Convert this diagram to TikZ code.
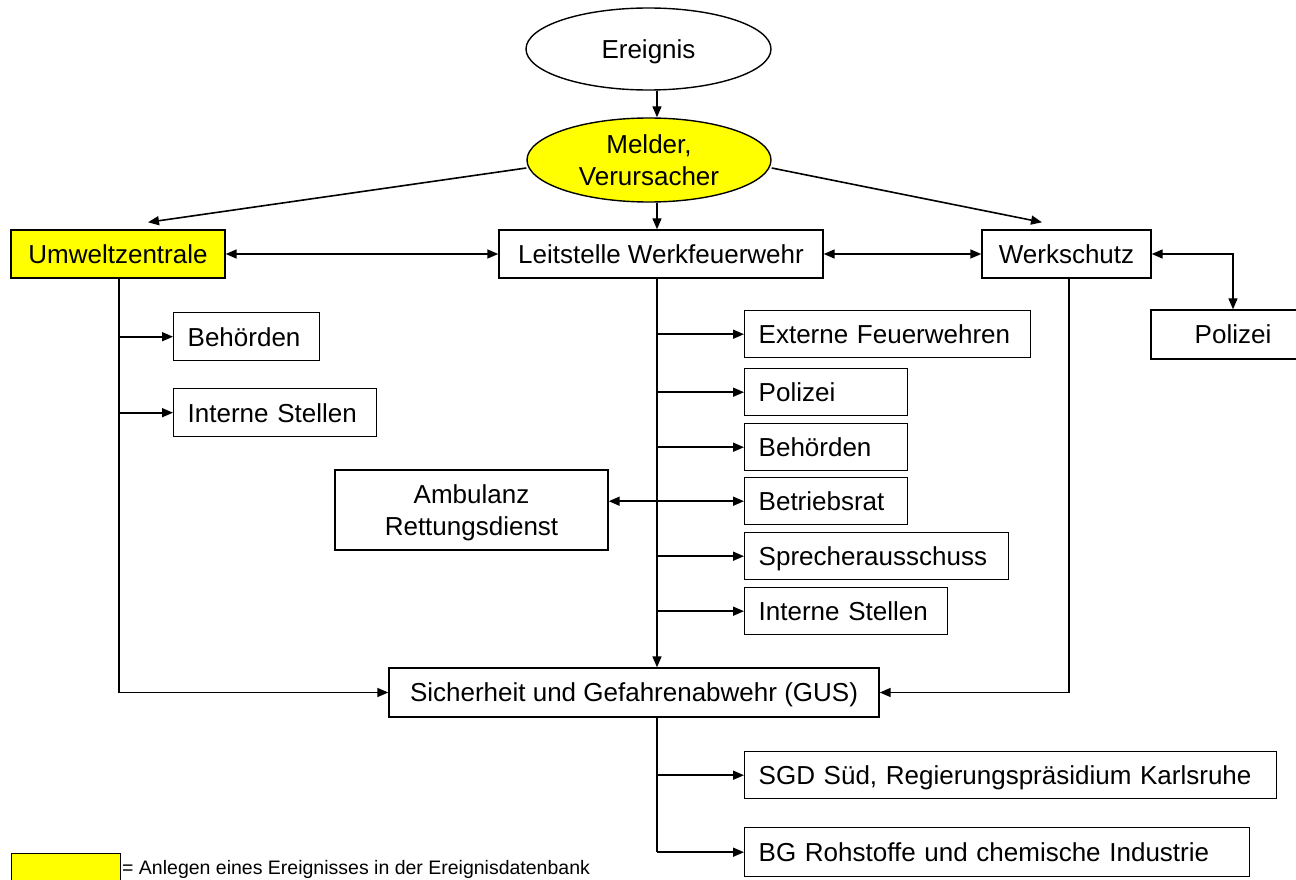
\documentclass[tikz,border=0pt]{standalone}
\usepackage{fontspec}
\setmainfont{Liberation Sans}
\usetikzlibrary{arrows.meta,shapes.geometric,calc}
\definecolor{hl}{RGB}{255,255,0}
\begin{document}
\begin{tikzpicture}[x=1pt,y=-1pt,
  every node/.style={font=\fontsize{26}{32}\selectfont},
  ln/.style={line width=1.6pt},
  arr/.style={ln,-{Triangle[length=11pt,width=9pt]}},
  darr/.style={ln,{Triangle[length=11pt,width=9pt]}-{Triangle[length=11pt,width=9pt]}},
  ell/.style={draw,ellipse,line width=1.4pt,inner sep=0pt,align=center,text depth=0pt},
  cbox/.style={draw,rectangle,line width=1.4pt,inner sep=0pt,align=center,text height=18.7pt,text depth=0pt},
  lbox/.style={draw,rectangle,line width=1.4pt,anchor=north west,inner xsep=14pt,inner ysep=0pt,align=left,text height=18.7pt,text depth=0pt}
]
\useasboundingbox (0,0) rectangle (1296,880);

% nodes
\node[ell,minimum width=245pt,minimum height=82pt,text height=18.7pt] (ere) at (648.5,49) {Ereignis};
\node[ell,fill=hl,minimum width=244pt,minimum height=84pt] (mel) at (649,160) {Melder,\\Verursacher};

\node[cbox,fill=hl,minimum width=214pt,minimum height=48pt] (umw) at (118,254) {Umweltzentrale};
\node[cbox,minimum width=324pt,minimum height=48pt] (lst) at (661,254) {Leitstelle Werkfeuerwehr};
\node[cbox,minimum width=169pt,minimum height=48pt] (wsch) at (1066.5,254) {Werkschutz};
\node[cbox,minimum width=164pt,minimum height=49pt] (pol1) at (1233,334.5) {Polizei};

\node[lbox,text width=118pt,minimum height=48pt] (beh1) at (173,312) {Behörden};
\node[lbox,text width=175pt,minimum height=48pt] (int1) at (173,388) {Interne Stellen};

\node[lbox,text width=258pt,minimum height=47pt] (ext) at (744,310) {Externe Feuerwehren};
\node[lbox,text width=135pt,minimum height=47pt] (pol2) at (744,368) {Polizei};
\node[lbox,text width=135pt,minimum height=47pt] (beh2) at (744,423) {Behörden};
\node[lbox,text width=135pt,minimum height=47pt] (betr) at (744,477) {Betriebsrat};
\node[lbox,text width=236pt,minimum height=47pt] (spr) at (744,532) {Sprecherausschuss};
\node[lbox,text width=175pt,minimum height=47pt] (int2) at (744,587) {Interne Stellen};

\node[draw,rectangle,line width=1.4pt,inner sep=0pt,align=center,text depth=0pt,minimum width=273pt,minimum height=80pt] (amb) at (471.5,510) {Ambulanz\\Rettungsdienst};

\node[cbox,minimum width=490pt,minimum height=49pt] (gus) at (634,692.5) {Sicherheit und Gefahrenabwehr (GUS)};

\node[lbox,text width=504pt,minimum height=47pt] (sgd) at (744,751) {SGD Süd, Regierungspräsidium Karlsruhe};
\node[lbox,text width=477pt,minimum height=49pt] (bg) at (744,827) {BG Rohstoffe und chemische Industrie};

% legend
\node[draw,fill=hl,line width=1pt,anchor=north west,minimum width=109pt,minimum height=30pt,inner sep=0pt] (leg) at (11,853) {};
\node[anchor=base west,inner sep=0pt,font=\fontsize{19.5}{22}\selectfont] (legt) at (122,874) {= Anlegen eines Ereignisses in der Ereignisdatenbank};

% trunk coordinates
\coordinate (lx) at (657,0);
\coordinate (ux) at (119,0);
\coordinate (wx) at (1069,0);

% connectors
\draw[arr] (lx |- ere.south) -- (lx |- mel.north);
\draw[arr] (lx |- mel.south) -- (lx |- lst.north);
\draw[arr] ([yshift=-8pt]mel.west) -- ([xshift=30pt,yshift=7pt]umw.north);
\draw[arr] ([yshift=-8pt]mel.east) -- ([xshift=-24.5pt,yshift=7pt]wsch.north);

\draw[darr] (umw.east) -- (lst.west);
\draw[darr] (lst.east) -- (wsch.west);
\draw[darr] (wsch.east) -| (pol1.north);

% Umweltzentrale branch
\draw[ln] (ux |- umw.south) -- (ux |- gus.west);
\draw[arr] (ux |- gus.west) -- (gus.west);
\draw[arr] (ux |- beh1.west) -- (beh1.west);
\draw[arr] (ux |- int1.west) -- (int1.west);

% Leitstelle trunk
\draw[arr] (lx |- lst.south) -- (lx |- gus.north);
\draw[arr] (lx |- ext.west) -- (ext.west);
\draw[arr] (lx |- pol2.west) -- (pol2.west);
\draw[arr] (lx |- beh2.west) -- (beh2.west);
\draw[darr] (amb.east |- betr.west) -- (betr.west);
\draw[arr] (lx |- spr.west) -- (spr.west);
\draw[arr] (lx |- int2.west) -- (int2.west);

% Werkschutz branch
\draw[ln] (wx |- wsch.south) -- (wx |- gus.east);
\draw[arr] (wx |- gus.east) -- (gus.east);

% GUS branch
\draw[ln] (lx |- gus.south) -- (lx |- bg.west);
\draw[arr] (lx |- sgd.west) -- (sgd.west);
\draw[arr] (lx |- bg.west) -- (bg.west);
\end{tikzpicture}
\end{document}
